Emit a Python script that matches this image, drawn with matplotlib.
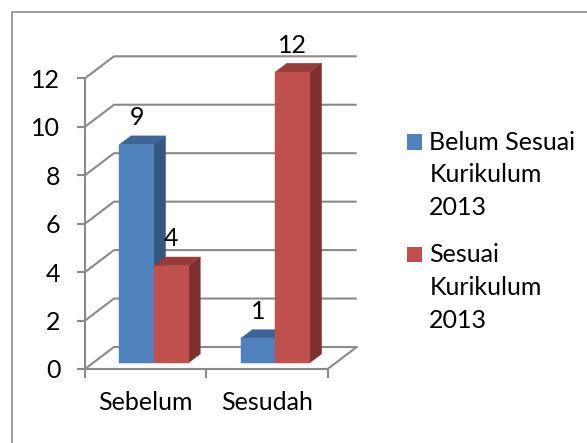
import matplotlib
matplotlib.use("Agg")
import matplotlib.pyplot as plt
from matplotlib.patches import Polygon, Rectangle

# ---- data ----
categories = ["Sebelum", "Sesudah"]
series_names = ["Belum Sesuai\nKurikulum\n2013", "Sesuai\nKurikulum\n2013"]
belum_sesuai = [9, 1]
sesuai = [4, 12]
yticks = [0, 2, 4, 6, 8, 10, 12]

# ---- styles ----
front_colors = ["#4F81BD", "#C0504D"]
side_colors = ["#34567F", "#7E302E"]
top_colors = ["#3D6596", "#973C3A"]
grid_color = "#8A8A8A"
FONT = ['Lato', 'DejaVu Sans']
FS = 18

plt.rcParams['font.family'] = FONT

W, H, DPI = 587, 443, 100
fig = plt.figure(figsize=(W / DPI, H / DPI), dpi=DPI)

# front plane of the 3-D box in pixels
px0, px1 = 85.0, 327.7
py0, py1 = 369.0, 78.3
ax = fig.add_axes([px0 / W, 1 - py0 / H, (px1 - px0) / W, (py0 - py1) / H])
ax.set_xlim(0, len(categories))
ax.set_ylim(0, yticks[-1])

ppx = (px1 - px0) / len(categories)      # pixels per category unit
ppy = (py0 - py1) / yticks[-1]           # pixels per value unit
DX = 29.0 / ppx                          # depth offset in data units
DY = 22.0 / ppy

# back wall gridlines (with diagonal on the side wall)
for v in yticks:
    ax.plot([0, DX, len(categories) + DX], [v, v + DY, v + DY],
            color=grid_color, lw=1.5, clip_on=False, zorder=1,
            solid_joinstyle='miter', solid_capstyle='butt')
# floor right edge
ax.plot([len(categories), len(categories) + DX], [0, DY],
        color=grid_color, lw=1.5, clip_on=False, zorder=1)

# bars
w = 1 / 3.5
f0, f1 = 0.286, 0.686
ox, oy = f0 * DX, f0 * DY
bdx, bdy = (f1 - f0) * DX, (f1 - f0) * DY
series = [belum_sesuai, sesuai]
for i in range(len(categories)):
    for s, vals in enumerate(series):
        v = vals[i]
        l = i + 0.5 - w + s * w + ox
        r = l + w
        b = oy
        t = v + oy
        z = 3 + i * 2 + s * 0.5
        front = Polygon([(l, b), (r, b), (r, t), (l, t)], closed=True,
                        fc=front_colors[s], ec=front_colors[s], lw=0.3,
                        clip_on=False, zorder=z)
        side = Polygon([(r, b), (r + bdx, b + bdy), (r + bdx, t + bdy), (r, t)],
                       closed=True, fc=side_colors[s], ec=side_colors[s], lw=0.3,
                       clip_on=False, zorder=z)
        top = Polygon([(l, t), (r, t), (r + bdx, t + bdy), (l + bdx, t + bdy)],
                      closed=True, fc=top_colors[s], ec=top_colors[s], lw=0.3,
                      clip_on=False, zorder=z)
        for p in (side, top, front):
            ax.add_patch(p)
        ax.annotate(str(v), xy=((l + r) / 2, t), xytext=(0, 14),
                    textcoords='offset points', ha='center', va='baseline',
                    fontsize=FS, color='black', zorder=10, annotation_clip=False)

# axes lines and ticks
for sp in ('top', 'right'):
    ax.spines[sp].set_visible(False)
for sp in ('left', 'bottom'):
    ax.spines[sp].set_color(grid_color)
    ax.spines[sp].set_linewidth(1.5)
    ax.spines[sp].set_zorder(2)
ax.set_facecolor('none')
ax.set_yticks(yticks)
ax.set_yticklabels([str(t) for t in yticks])
ax.tick_params(axis='y', direction='out', length=5.8, width=1.5,
               color=grid_color, pad=12, labelsize=FS)
ax.set_xticks(range(len(categories) + 1))
ax.set_xticklabels([])
ax.tick_params(axis='x', which='major', direction='out', length=6.5, width=1.5,
               color=grid_color)
ax.set_xticks([i + 0.5 for i in range(len(categories))], minor=True)
ax.set_xticklabels(categories, minor=True)
ax.tick_params(axis='x', which='minor', length=0, pad=16, labelsize=FS)

# legend (manual, squares aligned with first line)
leg_x_sq, leg_sq = 407.3, 15.0
leg_x_txt = 429.3
starts = [149.5, 262.3]
line_gap = 32.8
for s, name in enumerate(series_names):
    base = starts[s]
    fig.patches.append(Rectangle((leg_x_sq / W, 1 - base / H), leg_sq / W, leg_sq / H,
                                 transform=fig.transFigure, fc=front_colors[s],
                                 ec='none'))
    for k, line in enumerate(name.split("\n")):
        fig.text(leg_x_txt / W, 1 - (base + k * line_gap) / H, line,
                 ha='left', va='baseline', fontsize=FS, color='black')

# chart area border (extends beyond the right and bottom edges)
fig.patches.append(Rectangle((11.7 / W, -0.5), 2.0, 1 - 12.3 / H + 0.5,
                             transform=fig.transFigure, fill=False,
                             ec='#8C8C8C', lw=1.2))

fig.savefig("out.png", dpi=DPI)
